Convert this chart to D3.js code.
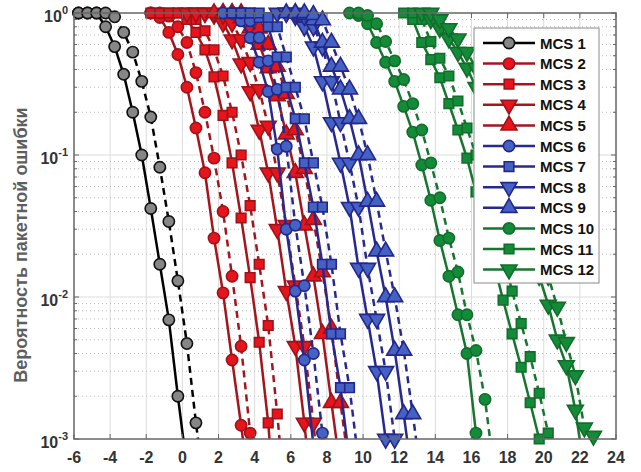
<!DOCTYPE html>
<html>
<head>
<meta charset="utf-8">
<script src="https://cdn.jsdelivr.net/npm/d3@7"></script>
<style>
  body { margin: 0; background: #fff; }
  text { font-family: "Liberation Sans", Arial, sans-serif; font-weight: bold; }
</style>
</head>
<body>
<script>
// ---- data: [SNR dB, packet error rate] ----
const mcsNames = ["MCS 1", "MCS 2", "MCS 3", "MCS 4", "MCS 5", "MCS 6",
                  "MCS 7", "MCS 8", "MCS 9", "MCS 10", "MCS 11", "MCS 12"];

const mcs1Solid  = [[-5.75,1],[-5.25,1],[-4.75,1],[-4.25,0.80],[-3.75,0.58],[-3.25,0.37],[-2.75,0.20],[-2.25,0.10],[-1.75,0.042],[-1.25,0.017],[-0.75,0.0069],[-0.25,0.0020],[0.25,0.00063]];
const mcs1Dashed = [[-5.75,1],[-5.25,1],[-4.75,1],[-4.25,1],[-3.75,0.94],[-3.25,0.73],[-2.75,0.53],[-2.25,0.33],[-1.75,0.185],[-1.25,0.082],[-0.75,0.034],[-0.25,0.013],[0.25,0.0047],[0.75,0.0013],[1.25,0.0004]];

const mcs2Solid  = [[-1.75,1],[-1.25,0.93],[-0.75,0.73],[-0.25,0.51],[0.25,0.30],[0.75,0.155],[1.25,0.075],[1.75,0.026],[2.25,0.0107],[2.75,0.0036],[3.25,0.00125],[3.75,0.0004]];
const mcs2Dashed = [[-1.75,1],[-1.25,1],[-0.75,0.95],[-0.25,0.8],[0.25,0.62],[0.75,0.38],[1.25,0.2],[1.75,0.095],[2.25,0.04],[2.75,0.014],[3.25,0.0045],[3.75,0.0011],[4.25,0.0003]];

const mcs3Solid  = [[-1.75,1],[-1.25,1],[-0.75,1],[-0.25,1],[0.25,0.9],[0.75,0.73],[1.25,0.55],[1.75,0.355],[2.25,0.19],[2.75,0.088],[3.25,0.036],[3.75,0.0137],[4.25,0.0048],[4.75,0.0013],[5.25,0.0002]];
const mcs3Dashed = [[-0.75,1],[-0.25,1],[0.25,1],[0.75,0.9],[1.25,0.75],[1.75,0.55],[2.25,0.36],[2.75,0.2],[3.25,0.1],[3.75,0.044],[4.25,0.017],[4.75,0.0063],[5.25,0.0015],[5.75,0.0003]];

const mcs4Solid  = [[0.25,1],[0.75,1],[1.25,1],[1.75,0.97],[2.25,0.85],[2.75,0.65],[3.25,0.44],[3.75,0.28],[4.25,0.15],[4.75,0.075],[5.25,0.03],[5.75,0.011],[6.25,0.0045],[6.75,0.0013],[7.25,0.0003]];
const mcs4Dashed = [[0.75,1],[1.25,1],[1.75,1],[2.25,0.97],[2.75,0.85],[3.25,0.65],[3.75,0.45],[4.25,0.29],[4.75,0.16],[5.25,0.075],[5.75,0.032],[6.25,0.012],[6.75,0.0045],[7.25,0.0013],[7.75,0.0003]];

const mcs5Solid  = [[1.75,1],[2.25,1],[2.75,1],[3.25,0.92],[3.75,0.78],[4.25,0.6],[4.75,0.41],[5.25,0.26],[5.75,0.14],[6.25,0.075],[6.75,0.032],[7.25,0.014],[7.75,0.0055],[8.25,0.0018],[8.75,0.0006]];
const mcs5Dashed = [[2.25,1],[2.75,1],[3.25,1],[3.75,0.92],[4.25,0.78],[4.75,0.6],[5.25,0.42],[5.75,0.27],[6.25,0.15],[6.75,0.08],[7.25,0.035],[7.75,0.015],[8.25,0.006],[8.75,0.0018],[9.25,0.0006]];

const mcs6Solid  = [[2.25,1],[2.75,1],[3.25,0.88],[3.75,0.67],[4.25,0.45],[4.75,0.28],[5.25,0.11],[5.75,0.03],[6.25,0.011],[6.75,0.0036],[7.25,0.0009]];
const mcs6Dashed = [[2.75,1],[3.25,1],[3.75,0.88],[4.25,0.67],[4.75,0.46],[5.25,0.29],[5.75,0.115],[6.25,0.032],[6.75,0.012],[7.25,0.004],[7.75,0.0011],[8.25,0.0003]];

const mcs7Solid  = [[2.75,1],[3.25,1],[3.75,1],[4.25,0.93],[4.75,0.8],[5.25,0.49],[5.75,0.30],[6.25,0.18],[6.75,0.088],[7.25,0.043],[7.75,0.017],[8.25,0.0055],[8.75,0.0023],[9.25,0.0007]];
const mcs7Dashed = [[3.25,1],[3.75,1],[4.25,1],[4.75,0.93],[5.25,0.8],[5.75,0.49],[6.25,0.30],[6.75,0.18],[7.25,0.088],[7.75,0.043],[8.25,0.017],[8.75,0.0055],[9.25,0.0023],[9.75,0.0007]];

const mcs8Solid  = [[5.25,1],[5.75,1],[6.25,0.95],[6.75,0.8],[7.25,0.58],[7.75,0.33],[8.25,0.17],[8.75,0.088],[9.25,0.043],[9.75,0.016],[10.25,0.007],[10.75,0.003],[11.25,0.001],[11.75,0.0003]];
const mcs8Dashed = [[5.75,1],[6.25,1],[6.75,0.95],[7.25,0.8],[7.75,0.58],[8.25,0.33],[8.75,0.17],[9.25,0.088],[9.75,0.043],[10.25,0.016],[10.75,0.007],[11.25,0.003],[11.75,0.001],[12.25,0.0003]];

const mcs9Solid  = [[5.75,1],[6.25,1],[6.75,0.97],[7.25,0.89],[7.75,0.62],[8.25,0.42],[8.75,0.29],[9.25,0.18],[9.75,0.10],[10.25,0.047],[10.75,0.021],[11.25,0.010],[11.75,0.0042],[12.25,0.0015],[12.75,0.0005]];
const mcs9Dashed = [[6.25,1],[6.75,1],[7.25,0.97],[7.75,0.89],[8.25,0.62],[8.75,0.42],[9.25,0.29],[9.75,0.18],[10.25,0.10],[10.75,0.047],[11.25,0.021],[11.75,0.010],[12.25,0.0042],[12.75,0.0015],[13.25,0.0005]];

const mcs10Solid  = [[9.25,1],[9.75,0.96],[10.25,0.84],[10.75,0.62],[11.25,0.45],[11.75,0.33],[12.25,0.22],[12.75,0.145],[13.25,0.085],[13.75,0.048],[14.25,0.025],[14.75,0.014],[15.25,0.0075],[15.75,0.004],[16.25,0.0011],[16.75,0.0003]];
const mcs10Dashed = [[9.75,1],[10.25,0.96],[10.75,0.84],[11.25,0.63],[11.75,0.46],[12.25,0.34],[12.75,0.23],[13.25,0.15],[13.75,0.088],[14.25,0.05],[14.75,0.026],[15.25,0.015],[15.75,0.0075],[16.25,0.0042],[16.75,0.0019],[17.25,0.0006]];

const mcs11Solid  = [[12.25,1],[12.75,0.9],[13.25,0.62],[13.75,0.47],[14.25,0.35],[14.75,0.23],[15.25,0.15],[15.75,0.095],[16.25,0.055],[16.75,0.03],[17.25,0.017],[17.75,0.0095],[18.25,0.0055],[18.75,0.0032],[19.25,0.0018],[19.75,0.001],[20.25,0.0005]];
const mcs11Dashed = [[12.75,1],[13.25,0.9],[13.75,0.63],[14.25,0.48],[14.75,0.36],[15.25,0.24],[15.75,0.155],[16.25,0.1],[16.75,0.06],[17.25,0.035],[17.75,0.02],[18.25,0.011],[18.75,0.0065],[19.25,0.0038],[19.75,0.0021],[20.25,0.0011],[20.75,0.0005]];

const mcs12Solid  = [[13.25,1],[13.75,0.9],[14.25,0.78],[14.75,0.66],[15.25,0.53],[15.75,0.41],[16.25,0.3],[16.75,0.2],[17.25,0.13],[17.75,0.08],[18.25,0.052],[18.75,0.034],[19.25,0.022],[19.75,0.014],[20.25,0.0088],[20.75,0.005],[21.25,0.0033],[21.75,0.0016],[22.25,0.0006]];
const mcs12Dashed = [[13.75,1],[14.25,0.9],[14.75,0.78],[15.25,0.66],[15.75,0.53],[16.25,0.41],[16.75,0.3],[17.25,0.2],[17.75,0.13],[18.25,0.085],[18.75,0.055],[19.25,0.035],[19.75,0.022],[20.25,0.014],[20.75,0.0085],[21.25,0.0048],[21.75,0.0028],[22.25,0.0012],[22.75,0.00105],[23.25,0.0004]];

const solidSeries  = [mcs1Solid, mcs2Solid, mcs3Solid, mcs4Solid, mcs5Solid, mcs6Solid,
                      mcs7Solid, mcs8Solid, mcs9Solid, mcs10Solid, mcs11Solid, mcs12Solid];
const dashedSeries = [mcs1Dashed, mcs2Dashed, mcs3Dashed, mcs4Dashed, mcs5Dashed, mcs6Dashed,
                      mcs7Dashed, mcs8Dashed, mcs9Dashed, mcs10Dashed, mcs11Dashed, mcs12Dashed];

const colorGroup = [0, 1, 1, 1, 1, 2, 2, 2, 2, 3, 3, 3];
const markerKind = ["circle", "circle", "square", "down", "up", "circle", "square", "down", "up", "circle", "square", "down"];

const xTickValues = [-6, -4, -2, 0, 2, 4, 6, 8, 10, 12, 14, 16, 18, 20, 22, 24];
const yTickValues = [1e-3, 1e-2, 1e-1, 1];
const yTickExps = ["-3", "-2", "-1", "0"];
const yLabel = "Вероятность пакетной ошибки";

// ---- styles ----
const lineColors = ["#000000", "#a3161d", "#27298f", "#16752e"];
const faceColors = ["#868686", "#e8141c", "#4462c4", "#138c3a"];
const edgeColors = ["#111111", "#9c141b", "#24268a", "#146c2b"];

const width = 641, height = 472;
const plotL = 74, plotR = 616, plotT = 13, plotB = 439;

const svg = d3.select("body").append("svg")
    .attr("width", width)
    .attr("height", height);

const x = d3.scaleLinear().domain([-6, 24]).range([plotL, plotR]);
const y = d3.scaleLog().domain([1e-3, 1]).range([plotB, plotT]);

// minor y values 2..9 per decade
const minorY = [];
[1e-3, 1e-2, 1e-1].forEach(d => { for (let k = 2; k <= 9; k++) minorY.push(d * k); });

// grid
const grid = svg.append("g");
grid.selectAll(".vg").data(xTickValues.slice(1, -1)).join("line")
    .attr("x1", d => x(d)).attr("x2", d => x(d))
    .attr("y1", plotT).attr("y2", plotB)
    .attr("stroke", "#dcdcdc").attr("stroke-width", 1);
grid.selectAll(".hg").data(yTickValues.slice(1, -1)).join("line")
    .attr("x1", plotL).attr("x2", plotR)
    .attr("y1", d => y(d)).attr("y2", d => y(d))
    .attr("stroke", "#dcdcdc").attr("stroke-width", 1);
grid.selectAll(".mg").data(minorY).join("line")
    .attr("x1", plotL).attr("x2", plotR)
    .attr("y1", d => y(d)).attr("y2", d => y(d))
    .attr("stroke", "#bdbdbd").attr("stroke-width", 1)
    .attr("stroke-dasharray", "1,3");

// clip for lines
svg.append("clipPath").attr("id", "plotclip")
  .append("rect")
    .attr("x", plotL).attr("y", plotT - 3)
    .attr("width", plotR - plotL).attr("height", plotB - plotT + 3);

const line = d3.line().x(d => x(d[0])).y(d => y(d[1]));

function symbolPath(kind) {
    if (kind === "circle") return d3.symbol(d3.symbolCircle, 100)();
    if (kind === "square") return d3.symbol(d3.symbolSquare, 92)();
    return d3.symbol(d3.symbolTriangle, 110)();
}
function symbolTransform(kind, px, py) {
    return kind === "down" ? `translate(${px},${py}) rotate(180)` : `translate(${px},${py})`;
}

const plot = svg.append("g");

function drawSeries(data, i, dashed) {
    const g = colorGroup[i];
    plot.append("path")
        .datum(data)
        .attr("clip-path", "url(#plotclip)")
        .attr("fill", "none")
        .attr("stroke", lineColors[g])
        .attr("stroke-width", 2.5)
        .attr("stroke-dasharray", dashed ? "7,5" : null)
        .attr("d", line);
    plot.append("g").selectAll("path")
        .data(data.filter(d => d[1] >= 1e-3))
        .join("path")
        .attr("d", symbolPath(markerKind[i]))
        .attr("transform", d => symbolTransform(markerKind[i], x(d[0]), y(d[1])))
        .attr("fill", faceColors[g])
        .attr("stroke", edgeColors[g])
        .attr("stroke-width", 1.6);
}

solidSeries.forEach((s, i) => {
    drawSeries(s, i, false);
    drawSeries(dashedSeries[i], i, true);
});

// frame and ticks
const axisColor = "#666";
svg.append("rect")
    .attr("x", plotL).attr("y", plotT)
    .attr("width", plotR - plotL).attr("height", plotB - plotT)
    .attr("fill", "none").attr("stroke", axisColor).attr("stroke-width", 1.5);

const ticks = svg.append("g").attr("stroke", axisColor).attr("stroke-width", 1);
xTickValues.forEach(v => {
    ticks.append("line").attr("x1", x(v)).attr("x2", x(v)).attr("y1", plotB).attr("y2", plotB - 5);
    ticks.append("line").attr("x1", x(v)).attr("x2", x(v)).attr("y1", plotT).attr("y2", plotT + 5);
});
yTickValues.forEach(v => {
    ticks.append("line").attr("x1", plotL).attr("x2", plotL + 5).attr("y1", y(v)).attr("y2", y(v));
    ticks.append("line").attr("x1", plotR).attr("x2", plotR - 5).attr("y1", y(v)).attr("y2", y(v));
});
minorY.forEach(v => {
    ticks.append("line").attr("x1", plotL).attr("x2", plotL + 3).attr("y1", y(v)).attr("y2", y(v));
    ticks.append("line").attr("x1", plotR).attr("x2", plotR - 3).attr("y1", y(v)).attr("y2", y(v));
});

// tick labels
svg.append("g").selectAll("text")
    .data(xTickValues)
    .join("text")
    .attr("x", d => x(d))
    .attr("y", 463)
    .attr("text-anchor", "middle")
    .attr("fill", "#333")
    .style("font-size", "16px")
    .text(d => d);

const yl = svg.append("g").selectAll("text")
    .data(yTickValues)
    .join("text")
    .attr("x", 68)
    .attr("y", d => y(d) + 9)
    .attr("text-anchor", "end")
    .attr("fill", "#333")
    .style("font-size", "16px");
yl.append("tspan").text("10");
yl.append("tspan")
    .attr("dy", -8)
    .style("font-size", "11px")
    .text((d, i) => yTickExps[i]);

// y axis label
svg.append("text")
    .attr("transform", `translate(27,245) rotate(-90)`)
    .attr("text-anchor", "middle")
    .attr("fill", "#5e5e5e")
    .style("font-size", "18px")
    .text(yLabel);

// legend
const legend = svg.append("g");
legend.append("rect")
    .attr("x", 474).attr("y", 28)
    .attr("width", 125).attr("height", 255)
    .attr("fill", "#fff")
    .attr("stroke", "#8a8a8a").attr("stroke-width", 1);

const rows = legend.selectAll(".row")
    .data(mcsNames)
    .join("g")
    .attr("transform", (d, i) => `translate(0,${43 + i * 20.6})`);
rows.append("line")
    .attr("x1", 483).attr("x2", 535)
    .attr("stroke", (d, i) => lineColors[colorGroup[i]])
    .attr("stroke-width", 2.5);
rows.append("path")
    .attr("d", (d, i) => symbolPath(markerKind[i]))
    .attr("transform", (d, i) => symbolTransform(markerKind[i], 509, 0))
    .attr("fill", (d, i) => faceColors[colorGroup[i]])
    .attr("stroke", (d, i) => edgeColors[colorGroup[i]])
    .attr("stroke-width", 1.6);
rows.append("text")
    .attr("x", 540)
    .attr("y", 5.5)
    .attr("fill", "#111")
    .style("font-size", "15px")
    .text(d => d);
</script>
</body>
</html>
